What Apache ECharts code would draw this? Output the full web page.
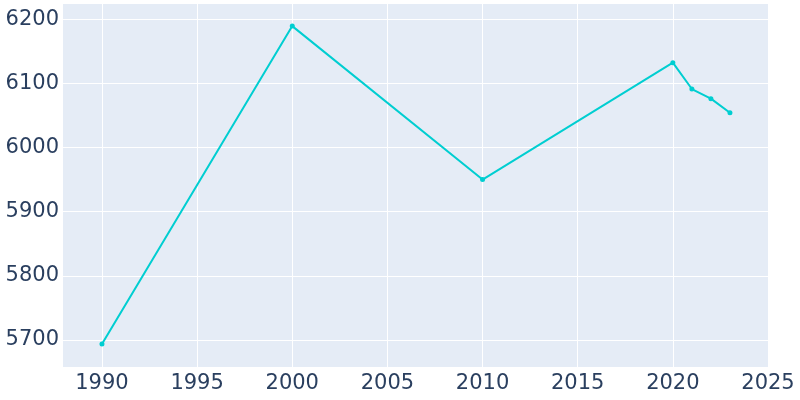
<!DOCTYPE html>
<html><head><meta charset="utf-8">
<script src="https://cdn.jsdelivr.net/npm/echarts@6/dist/echarts.min.js"></script>
<style>html,body{margin:0;padding:0;background:#fff}#c{width:800px;height:400px}</style>
</head><body><div id="c"></div>
<script>
const years = [1990, 2000, 2010, 2020, 2021, 2022, 2023];
const population = [5694, 6189, 5950, 6132, 6091, 6076, 6054];
const xRange = [1987.9, 2025];
const yRange = [5658, 6225];

const chart = echarts.init(document.getElementById('c'));
const font = {fontFamily: 'DejaVu Sans', fontSize: 21, color: '#2a3f5f'};
const plain = v => String(Math.round(v));
chart.setOption({
  animation: false,
  backgroundColor: '#ffffff',
  grid: {left: 62, right: 32, top: 3, bottom: 33, show: true, backgroundColor: '#E5ECF6', borderWidth: 0,
         containLabel: false, outerBoundsMode: 'none'},
  xAxis: {
    type: 'value', min: xRange[0], max: xRange[1], splitNumber: 7,
    axisLine: {show: false}, axisTick: {show: false},
    splitLine: {lineStyle: {color: '#ffffff', width: 1}},
    axisLabel: Object.assign({margin: 6, showMinLabel: false, showMaxLabel: true, formatter: plain, hideOverlap: false}, font)
  },
  yAxis: {
    type: 'value', min: yRange[0], max: yRange[1], splitNumber: 6,
    axisLine: {show: false}, axisTick: {show: false},
    splitLine: {lineStyle: {color: '#ffffff', width: 1}},
    axisLabel: Object.assign({margin: 3, showMinLabel: false, showMaxLabel: false, formatter: plain}, font)
  },
  series: [{
    type: 'line',
    data: years.map((y, i) => [y, population[i]]),
    symbol: 'circle', symbolSize: 5, showSymbol: true,
    lineStyle: {color: '#00CED1', width: 2},
    itemStyle: {color: '#00CED1'}
  }]
});
</script></body></html>
